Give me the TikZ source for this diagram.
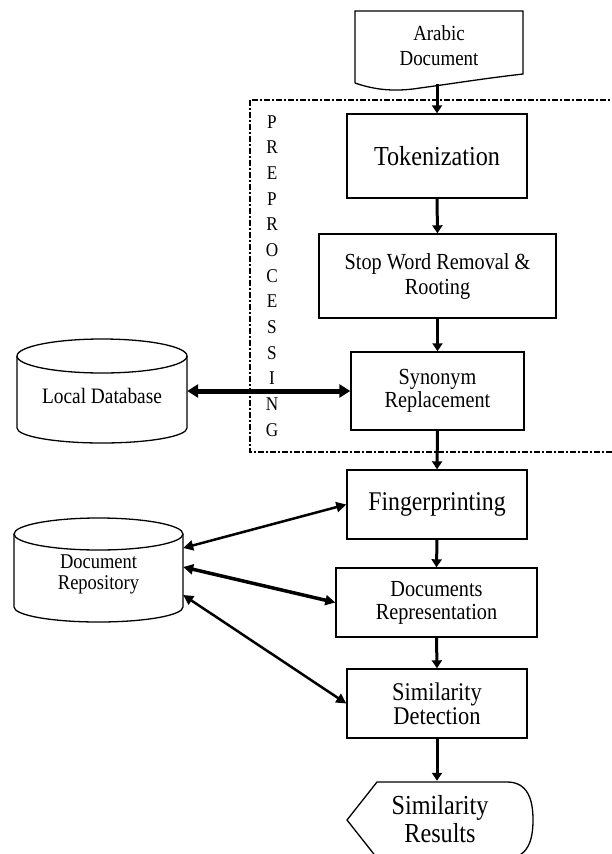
\documentclass[tikz,border=0pt]{standalone}
\usepackage{fontspec}
\setmainfont{Liberation Serif}[FakeStretch=0.88]
\usetikzlibrary{arrows.meta}
\begin{document}
\begin{tikzpicture}[x=1pt,y=-1pt,
  box/.style={draw, line width=1.4pt, inner sep=0pt, align=center},
  lbl/.style={inner sep=0pt, align=center},
  outline/.style={draw, line width=1.3pt},
  flow/.style={line width=3pt, -{Triangle[length=8pt,width=10pt]}},
  link/.style={line width=2.5pt, {Triangle[length=10pt,width=10pt]}-{Triangle[length=10pt,width=10pt]}},
  biglink/.style={line width=5pt, {Triangle[length=11pt,width=13pt]}-{Triangle[length=11pt,width=13pt]}},
  frame/.style={line width=2.2pt, dash pattern=on 6pt off 2pt on 2pt off 2pt}
]
\fill[white] (0,0) rectangle (611,854);
\useasboundingbox (0,0) rectangle (611,854);

% preprocessing frame
\draw[frame] (250,100) rectangle (640,452);
\node[lbl, font=\fontsize{19.5}{25.67}\selectfont] (prep) at (272,276) {P\\R\\E\\P\\R\\O\\C\\E\\S\\S\\I\\N\\G};

% Arabic document
\node[lbl, minimum width=168pt, minimum height=76pt, font=\fontsize{21.5}{25}\selectfont] (doc) at (439,46) {Arabic\\Document};
\draw[outline] (355,83) -- (355,11) -- (523,11) -- (523,74)
  .. controls (480,79) and (450,84) .. (420,88)
  .. controls (395,92) and (375,90) .. (355,83);

% process boxes
\node[box, minimum width=180pt, minimum height=84pt, font=\fontsize{27.5}{30}\selectfont] (tok) at (437,156) {Tokenization};
\node[box, minimum width=237pt, minimum height=84pt, font=\fontsize{23}{25}\selectfont] (stop) at (437.5,276) {Stop Word Removal \&\\Rooting};
\node[box, minimum width=173pt, minimum height=78pt, font=\fontsize{23}{23}\selectfont] (syn) at (437.5,391) {Synonym\\Replacement};
\node[box, minimum width=180pt, minimum height=69pt, font=\fontsize{27}{30}\selectfont] (fing) at (437,504.5) {Fingerprinting};
\node[box, minimum width=201pt, minimum height=69pt, font=\fontsize{23}{23}\selectfont] (drep) at (436.5,602.5) {Documents\\Representation};
\node[box, minimum width=180pt, minimum height=69pt, font=\fontsize{25.5}{24}\selectfont] (sim) at (437,703.5) {Similarity\\Detection};

% similarity results (display shape)
\node[lbl, minimum width=186pt, minimum height=76pt, font=\fontsize{27.5}{28}\selectfont] (res) at (440,819) {Similarity\\Results};
\draw[outline] (347,820) -- (377,782) -- (507,782)
  .. controls (528,782) and (533,800) .. (533,820)
  .. controls (533,840) and (528,858) .. (507,858) -- (377,858) -- cycle;

% local database cylinder
\node[lbl, minimum width=170pt, minimum height=72pt, font=\fontsize{22}{24}\selectfont] (ldb) at (102,396) {Local Database};
\draw[outline] (102,356) ellipse [x radius=85pt, y radius=17pt];
\draw[outline] (17,356) -- (17,428) arc [start angle=180, end angle=360, x radius=85pt, y radius=15pt] -- (187,356);

% document repository cylinder
\node[lbl, minimum width=169pt, minimum height=60pt, font=\fontsize{21}{21}\selectfont] (rep) at (98.5,574) {Document\\Repository};
\draw[outline] (98.5,534) ellipse [x radius=84.5pt, y radius=16pt];
\draw[outline] (14,534) -- (14,607) arc [start angle=180, end angle=360, x radius=84.5pt, y radius=15pt] -- (183,534);

% flow arrows
\draw[flow] (tok.north |- doc.south) -- (tok.north);
\draw[flow] (tok.south) -- (stop.north);
\draw[flow] (stop.south) -- (syn.north);
\draw[flow] (syn.south) -- (fing.north);
\draw[flow] (fing.south) -- (drep.north);
\draw[flow] (drep.south) -- (sim.north);
\draw[flow] (sim.south) -- (sim.south |- res.north);

% database links
\draw[biglink] (ldb.east |- syn.west) -- (syn.west);
\draw[link] ([yshift=26pt]rep.east) -- (fing.west);
\draw[link, line width=3.5pt] ([yshift=7pt]rep.east) -- (drep.west);
\draw[link] ([yshift=-21pt]rep.east) -- (sim.west);
\end{tikzpicture}
\end{document}
